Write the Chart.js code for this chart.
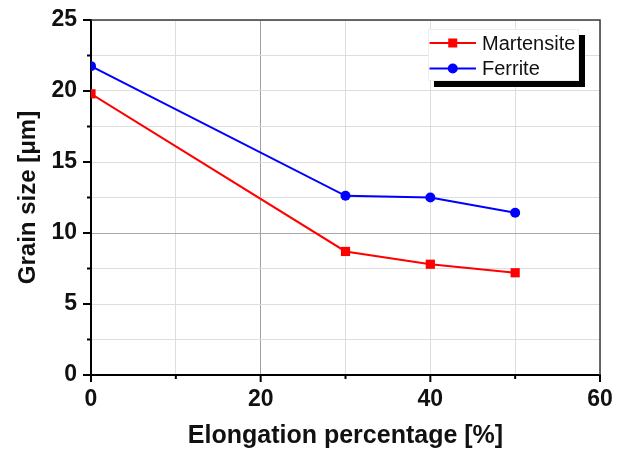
<!DOCTYPE html>
<html>
<head>
<meta charset="utf-8">
<script src="https://cdn.jsdelivr.net/npm/chart.js@4/dist/chart.umd.min.js"></script>
<style>
  html, body { margin: 0; padding: 0; background: #fff; }
  #wrap { width: 626px; height: 452px; }
</style>
</head>
<body>
<div id="wrap"><canvas id="c" width="626" height="452"></canvas></div>
<script>
// Elongation (%) and measured grain sizes (µm)
const elongation = [0, 30, 40, 50];
const martensite = [19.8, 8.7, 7.8, 7.2];
const ferrite = [21.75, 12.62, 12.5, 11.42];
const seriesNames = ['Martensite', 'Ferrite'];
const seriesColors = ['#ff0000', '#0000ff'];
const xTitle = 'Elongation percentage [%]';
const yTitle = 'Grain size [\u03bcm]';

const FONT = "'Liberation Sans', Arial, sans-serif";

// Outward tick marks (long for labelled values, short in between) and the top/right frame
const frameAndTicks = {
  id: 'frameAndTicks',
  afterDraw(chart) {
    const { ctx, chartArea: a, scales: { x, y } } = chart;
    ctx.save();
    ctx.strokeStyle = '#3a3a3a';
    ctx.lineWidth = 1.5;
    ctx.beginPath();
    ctx.moveTo(a.left, a.top);
    ctx.lineTo(a.right, a.top);
    ctx.lineTo(a.right, a.bottom);
    ctx.stroke();

    ctx.strokeStyle = '#000';
    ctx.lineWidth = 2;
    for (let v = 0; v <= 60; v += 10) {
      const px = x.getPixelForValue(v);
      const len = v % 20 === 0 ? 7 : 4;
      ctx.beginPath();
      ctx.moveTo(px, a.bottom);
      ctx.lineTo(px, a.bottom + len);
      ctx.stroke();
    }
    for (let v = 0; v <= 25; v += 2.5) {
      const py = y.getPixelForValue(v);
      const len = v % 5 === 0 ? 8 : 4;
      ctx.beginPath();
      ctx.moveTo(a.left, py);
      ctx.lineTo(a.left - len, py);
      ctx.stroke();
    }
    ctx.restore();
  }
};

// Boxed legend with a drop shadow in the upper right of the plot
const boxLegend = {
  id: 'boxLegend',
  afterDraw(chart) {
    const { ctx, chartArea: a } = chart;
    const bx = a.right - 172, by = a.top + 9, bw = 151, bh = 52, sh = 6;
    ctx.save();
    ctx.fillStyle = '#000';
    ctx.fillRect(bx + sh, by + sh, bw, bh);
    ctx.fillStyle = '#fff';
    ctx.fillRect(bx, by, bw, bh);
    ctx.strokeStyle = '#eeeeee';
    ctx.lineWidth = 1;
    ctx.strokeRect(bx + 0.5, by + 0.5, bw - 1, bh - 1);

    chart.data.datasets.forEach((ds, i) => {
      const ry = by + 14 + i * 25.5;
      const lx0 = bx + 1.5, lx1 = bx + 48;
      ctx.strokeStyle = ds.borderColor;
      ctx.lineWidth = 2;
      ctx.beginPath();
      ctx.moveTo(lx0, ry);
      ctx.lineTo(lx1, ry);
      ctx.stroke();
      ctx.fillStyle = ds.backgroundColor;
      const mx = (lx0 + lx1) / 2;
      if (ds.pointStyle === 'rect') {
        ctx.fillRect(mx - 4.5, ry - 4.5, 9, 9);
      } else {
        ctx.beginPath();
        ctx.arc(mx, ry, 5, 0, Math.PI * 2);
        ctx.fill();
      }
      ctx.fillStyle = '#111';
      ctx.font = '20px ' + FONT;
      ctx.textBaseline = 'middle';
      ctx.textAlign = 'left';
      ctx.fillText(ds.label, bx + 54, ry + 1);
    });
    ctx.restore();
  }
};

const toPoints = (vals) => elongation.map((e, i) => ({ x: e, y: vals[i] }));

new Chart(document.getElementById('c'), {
  type: 'line',
  data: {
    datasets: [
      {
        label: seriesNames[0],
        data: toPoints(martensite),
        borderColor: seriesColors[0],
        backgroundColor: seriesColors[0],
        borderWidth: 2,
        pointStyle: 'rect',
        pointRadius: 6.5,
        pointBorderWidth: 0,
        tension: 0
      },
      {
        label: seriesNames[1],
        data: toPoints(ferrite),
        borderColor: seriesColors[1],
        backgroundColor: seriesColors[1],
        borderWidth: 2,
        pointStyle: 'circle',
        pointRadius: 5,
        pointBorderWidth: 0,
        tension: 0
      }
    ]
  },
  options: {
    responsive: false,
    animation: false,
    events: [],
    layout: { padding: { left: 0, right: 26, top: 20, bottom: 0 } },
    plugins: {
      legend: { display: false },
      tooltip: { enabled: false }
    },
    scales: {
      x: {
        type: 'linear',
        min: 0,
        max: 60,
        afterFit: (s) => { s.height = 77; s.paddingLeft = 0; s.paddingRight = 0; },
        border: { color: '#000', width: 2 },
        grid: {
          drawTicks: false,
          lineWidth: 1,
          color: (c) => (c.tick && c.tick.value === 20 ? '#a0a0a0' : '#dedede')
        },
        ticks: {
          stepSize: 10,
          padding: 11,
          color: '#111',
          font: { family: FONT, size: 23, weight: 'bold' },
          maxRotation: 0,
          autoSkip: false,
          callback: (v) => (v % 20 === 0 ? String(v) : '')
        },
        title: {
          display: true,
          text: xTitle,
          color: '#111',
          font: { family: FONT, size: 25, weight: 'bold' },
          padding: { top: 0, bottom: 1 }
        }
      },
      y: {
        type: 'linear',
        min: 0,
        max: 25,
        afterFit: (s) => { s.width = 91; s.paddingTop = 0; s.paddingBottom = 0; },
        border: { color: '#000', width: 2 },
        grid: {
          drawTicks: false,
          lineWidth: 1,
          color: (c) => (c.tick && c.tick.value === 10 ? '#a8a8a8' : '#dedede')
        },
        ticks: {
          stepSize: 2.5,
          padding: 14,
          color: '#111',
          font: { family: FONT, size: 23, weight: 'bold' },
          autoSkip: false,
          callback: (v) => (v % 5 === 0 ? String(v) : '')
        },
        title: {
          display: true,
          text: yTitle,
          color: '#111',
          font: { family: FONT, size: 24, weight: 'bold' },
          padding: { top: 14, bottom: 0 }
        }
      }
    }
  },
  plugins: [frameAndTicks, boxLegend]
});
</script>
</body>
</html>
